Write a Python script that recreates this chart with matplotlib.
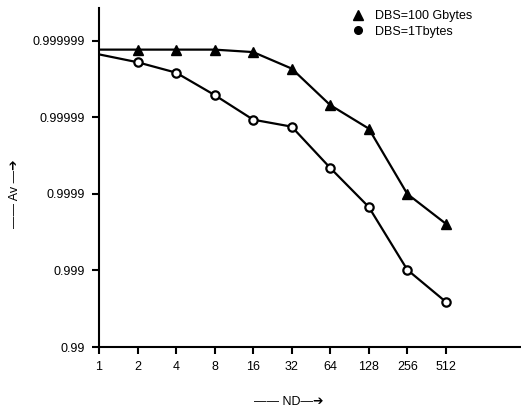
import numpy as np
import matplotlib.pyplot as plt

plt.rcParams['font.family'] = ['Liberation Sans', 'DejaVu Sans']

# ---------------- Data ----------------
nd = [1, 2, 4, 8, 16, 32, 64, 128, 256, 512]
av_100g = [0.9999987, 0.9999987, 0.9999987, 0.9999987, 0.9999986,
           0.9999977, 0.9999931, 0.999986, 0.9999, 0.999755]
av_1t = [0.9999985, 0.9999981, 0.9999974, 0.9999949, 0.9999893,
         0.9999868, 0.9999543, 0.999852, 0.99902, 0.99743]
y_ticks = [0.99, 0.999, 0.9999, 0.99999, 0.999999]
y_tick_labels = ['0.99', '0.999', '0.9999', '0.99999', '0.999999']


# "nines" scale: -log10(1 - A)
def fwd(a):
    a = np.asarray(a, dtype=float)
    return -np.log10(np.clip(1.0 - a, 1e-12, None))


def inv(u):
    return 1.0 - 10.0 ** (-np.asarray(u, dtype=float))


fig = plt.figure(figsize=(5.21, 4.12), dpi=100)
ax = fig.add_axes([99 / 521, 65 / 412, 1 - 99 / 521, 339 / 412])

ax.set_xscale('log', base=2)
ax.set_yscale('function', functions=(fwd, inv))

ax.plot(nd, av_100g, color='black', lw=1.6, marker='^', ms=6.5,
        mfc='black', mec='black', markevery=range(1, len(nd)))
ax.plot(nd, av_1t, color='black', lw=1.6, marker='o', ms=6,
        mfc='white', mec='black', mew=1.6, markevery=range(1, len(nd)))

ax.set_xlim(1, 2 ** 10.95)
ax.set_ylim(0.99, inv(6.43))
ax.set_xticks(nd)
ax.set_xticklabels([str(n) for n in nd])
ax.minorticks_off()
ax.set_yticks(y_ticks)
ax.set_yticklabels(y_tick_labels)

for s in ['top', 'right']:
    ax.spines[s].set_visible(False)
for s in ['left', 'bottom']:
    ax.spines[s].set_linewidth(1.5)
ax.tick_params(axis='both', direction='out', length=5, width=1.5,
               labelsize=9, pad=5)

# axis labels with arrows
fig.text(0.028, 0.53, '\u2014\u2014 Av \u2014\u2794', rotation=90, fontsize=9,
         ha='center', va='center')
fig.text(0.555, 0.025, '\u2014\u2014 ND\u2014\u2794', fontsize=9,
         ha='center', va='center')

# legend (markers only)
h1 = plt.Line2D([], [], ls='none', marker='^', ms=6.5, color='black')
h2 = plt.Line2D([], [], ls='none', marker='o', ms=5.5, mfc='black',
                mec='black')
fig.legend([h1, h2], ['DBS=100 Gbytes', 'DBS=1Tbytes'],
           loc='upper left', bbox_to_anchor=(0.655, 1.0), frameon=False,
           fontsize=9, handlelength=1.0, handletextpad=0.9,
           labelspacing=0.3, borderpad=0.3)

fig.savefig('out.png', dpi=100)
